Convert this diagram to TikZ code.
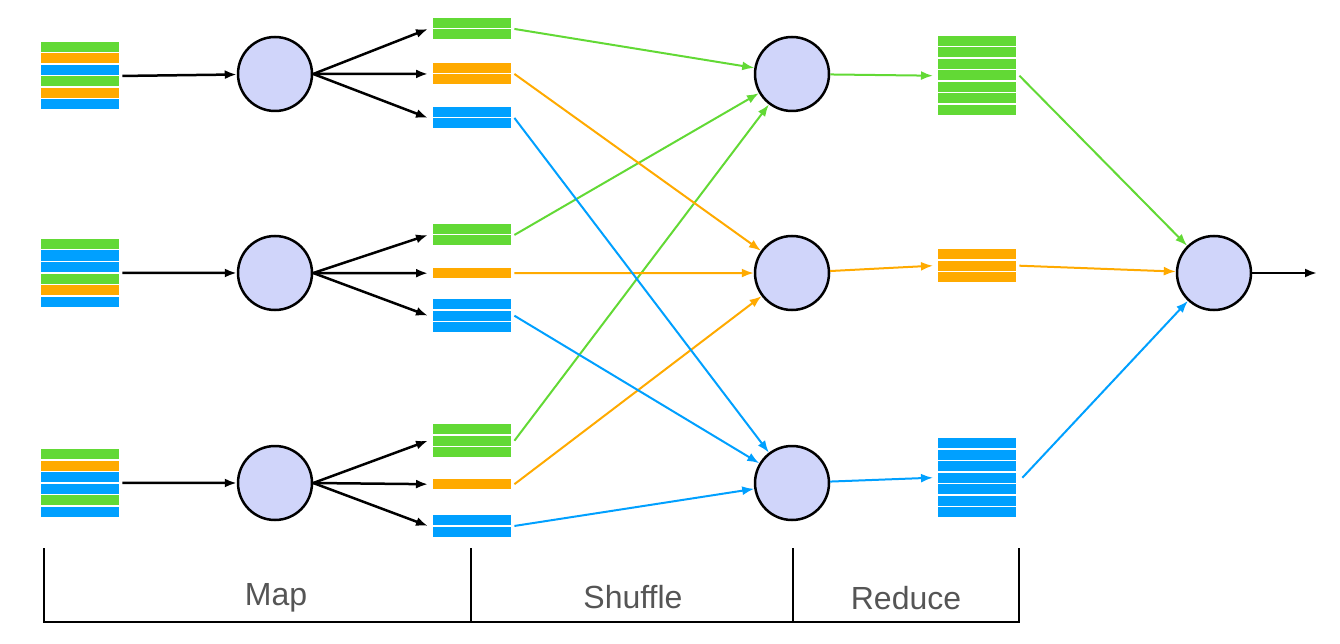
\documentclass[tikz,border=0pt]{standalone}
\usepackage{fontspec}
\setmainfont{Liberation Sans}
\usetikzlibrary{arrows.meta}
\definecolor{G}{HTML}{62D935}
\definecolor{O}{HTML}{FFAA00}
\definecolor{B}{HTML}{00A0FF}
\definecolor{cfill}{HTML}{D0D5FA}
\definecolor{lab}{HTML}{555555}
\newcommand\stk[5]{%
 \foreach[count=\i] \c in {#4} {\fill[\c] (#2,{#3+(\i-1)*11.5}) rectangle ++(78,10);}
 \node[inner sep=0,minimum width=78pt,minimum height={#5*11.5-1.5pt},anchor=north west] (#1) at (#2,#3) {};}
\begin{document}
\begin{tikzpicture}[x=1pt,y=-1pt,
  proc/.style={circle,draw=black,line width=2.5pt,fill=cfill,minimum size=74pt,inner sep=0},
  blk/.style={line width=2.5pt,-{Latex[length=12pt,width=9pt]}},
  col/.style={#1,line width=2pt,-{Latex[length=12pt,width=9pt]}},
  lbl/.style={text=lab,font=\fontsize{32}{38}\selectfont}]
\useasboundingbox (0,0) rectangle (1340,644);
% inputs
\stk{i1}{41}{42}{G,O,B,G,O,B}{6}
\stk{i2}{41}{239}{G,B,B,G,O,B}{6}
\stk{i3}{41}{449}{G,O,B,B,G,B}{6}
% mappers
\node[proc] (m1) at (275,74) {};
\node[proc] (m2) at (275,273) {};
\node[proc] (m3) at (275,483) {};
% intermediate
\stk{a1}{433}{18}{G,G}{2}
\stk{b1}{433}{63}{O,O}{2}
\stk{c1}{433}{107}{B,B}{2}
\stk{a2}{433}{224}{G,G}{2}
\stk{b2}{433}{268}{O}{1}
\stk{c2}{433}{299}{B,B,B}{3}
\stk{a3}{433}{424}{G,G,G}{3}
\stk{b3}{433}{479}{O}{1}
\stk{c3}{433}{515}{B,B}{2}
% reducers
\node[proc] (r1) at (792,74) {};
\node[proc] (r2) at (792,273) {};
\node[proc] (r3) at (792,483) {};
% outputs
\stk{o1}{938}{36}{G,G,G,G,G,G,G}{7}
\stk{o2}{938}{249}{O,O,O}{3}
\stk{o3}{938}{438}{B,B,B,B,B,B,B}{7}
\node[proc] (f) at (1214,273) {};
\coordinate (end) at (1317,273);
% map arrows
\foreach \k in {1,2,3}{
  \draw[blk] ([xshift=3pt]i\k.east) -- (m\k);
  \draw[blk] (m\k.east) -- ([xshift=-5pt]a\k.west);
  \draw[blk] (m\k.east) -- ([xshift=-5pt]b\k.west);
  \draw[blk] (m\k.east) -- ([xshift=-5pt]c\k.west);
}
% shuffle
\draw[col=G] ([xshift=3pt]a1.east) -- (r1);
\draw[col=G] ([xshift=3pt]a2.east) -- (r1);
\draw[col=G] ([xshift=3pt]a3.east) -- (r1);
\draw[col=O] ([xshift=3pt]b1.east) -- (r2);
\draw[col=O] ([xshift=3pt]b2.east) -- (r2);
\draw[col=O] ([xshift=3pt]b3.east) -- (r2);
\draw[col=B] ([xshift=3pt]c1.east) -- (r3);
\draw[col=B] ([xshift=3pt]c2.east) -- (r3);
\draw[col=B] ([xshift=3pt]c3.east) -- (r3);
% reduce
\draw[col=G] (r1) -- ([xshift=-5pt]o1.west);
\draw[col=O] (r2) -- ([xshift=-5pt]o2.west);
\draw[col=B] (r3) -- ([xshift=-5pt]o3.west);
\draw[col=G] ([xshift=3pt]o1.east) -- (f);
\draw[col=O] ([xshift=3pt]o2.east) -- (f);
\draw[col=B] ([xshift=6pt]o3.east) -- (f);
\draw[blk] (f) -- (end);
% brackets
\draw[line width=2pt] (44,548) -- (44,622) -- (1019,622) -- (1019,548);
\draw[line width=2pt] (471,548) -- (471,622);
\draw[line width=2pt] (793,548) -- (793,622);
\node[lbl] (map) at (276,598) {Map};
\node[lbl] (shf) at (633,597) {Shuffle};
\node[lbl] (red) at (906,598) {Reduce};
\end{tikzpicture}
\end{document}
